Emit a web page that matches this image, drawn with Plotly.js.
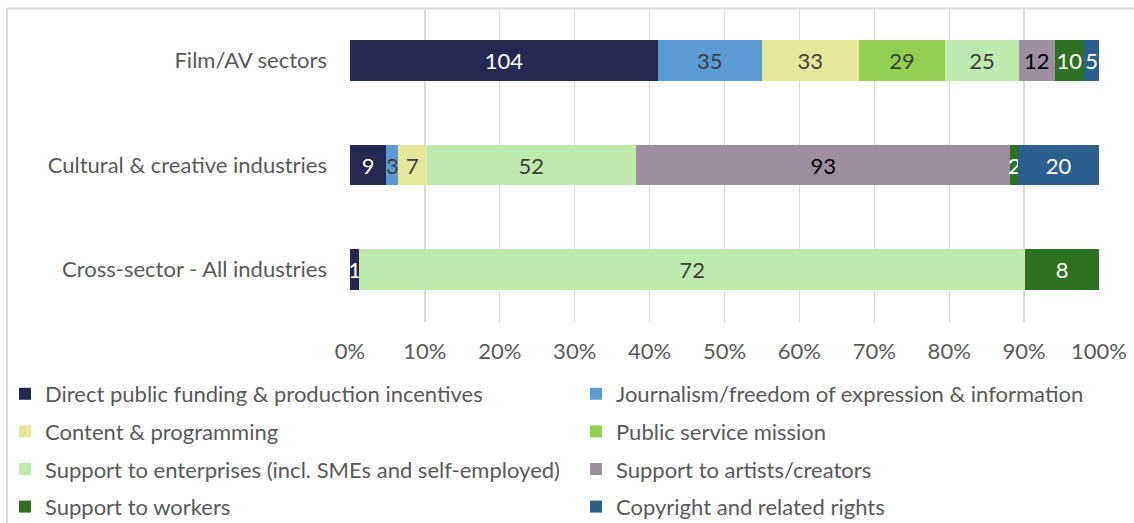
<!DOCTYPE html>
<html><head><meta charset="utf-8">
<script src="https://cdn.plot.ly/plotly-3.0.1.min.js"></script>
<style>html,body{margin:0;padding:0;background:#fff}#chart{width:1134px;height:523px}</style>
</head><body><div id="chart"></div>
<script>
const categories = ["Film/AV sectors", "Cultural & creative industries", "Cross-sector - All industries"];
const seriesNames = [
  "Direct public funding & production incentives",
  "Journalism/freedom of expression & information",
  "Content & programming",
  "Public service mission",
  "Support to enterprises (incl. SMEs and self-employed)",
  "Support to artists/creators",
  "Support to workers",
  "Copyright and related rights"
];
const directFunding   = [104, 9, 1];
const journalism      = [35, 3, 0];
const content         = [33, 7, 0];
const publicService   = [29, 0, 0];
const enterprises     = [25, 52, 72];
const artists         = [12, 93, 0];
const workers         = [10, 2, 8];
const copyright       = [5, 20, 0];
const seriesValues = [directFunding, journalism, content, publicService, enterprises, artists, workers, copyright];
const colors = ["#252850", "#5b9bd5", "#e6e79b", "#92d050", "#bfeaae", "#9e8fa0", "#2d7220", "#2a5f8e"];
const labelColors = ["#ffffff", "#404040", "#404040", "#404040", "#404040", "#000000", "#ffffff", "#ffffff"];

const FONT = "Lato, 'Open Sans', sans-serif";
const FS = 22;
const traces = seriesValues.map((vals, i) => ({
  type: "bar",
  orientation: "h",
  name: seriesNames[i],
  y: categories,
  x: vals,
  text: vals.map(v => v > 0 ? String(v) : ""),
  texttemplate: "%{text}",
  textposition: "inside",
  insidetextanchor: "middle",
  textangle: 0,
  constraintext: "none",
  cliponaxis: false,
  insidetextfont: {family: FONT, size: FS, color: labelColors[i]},
  marker: {color: colors[i], line: {width: 0}},
  hoverinfo: "name+x",
  legend: i % 2 === 0 ? "legend" : "legend2",
  legendgroup: "g" + i
}));

const legendCommon = {
  xref: "container", yref: "container",
  xanchor: "left", yanchor: "top",
  orientation: "v", tracegroupgap: 6, itemclick: false,
  font: {family: FONT, size: FS, color: "#595959"},
  bgcolor: "rgba(0,0,0,0)"
};

const layout = {
  width: 1134, height: 523,
  margin: {l: 350, r: 35, t: 7.5, b: 200.5, autoexpand: false},
  paper_bgcolor: "#ffffff", plot_bgcolor: "#ffffff",
  barmode: "stack", barnorm: "percent",
  bargap: 0.61,
  font: {family: FONT, size: FS, color: "#595959"},
  xaxis: {
    range: [0, 100], dtick: 10, ticksuffix: "%",
    showgrid: true, gridcolor: "#d9d9d9", gridwidth: 1.3,
    zeroline: false, showline: false, ticks: "",
    ticklabelstandoff: 14, automargin: false,
    tickfont: {family: FONT, size: FS, color: "#595959"},
    fixedrange: true
  },
  yaxis: {
    autorange: "reversed", showgrid: false, zeroline: false, ticks: "",
    ticklabelstandoff: 22, automargin: false,
    tickfont: {family: FONT, size: FS, color: "#595959"},
    fixedrange: true
  },
  showlegend: true,
  legend: Object.assign({}, legendCommon, {x: 5 / 1134, y: 1 - 373 / 523}),
  legend2: Object.assign({}, legendCommon, {x: 576 / 1134, y: 1 - 373 / 523}),
  shapes: [
    {
      type: "line", xref: "paper", yref: "paper",
      x0: -0.458, x1: -0.458, y0: -1, y1: 0.9984,
      line: {color: "#d9d9d9", width: 2}
    },
    {
      type: "line", xref: "paper", yref: "paper",
      x0: -0.458, x1: 1.1, y0: 0.9984, y1: 0.9984,
      line: {color: "#d9d9d9", width: 2}
    }
  ]
};
Plotly.newPlot("chart", traces, layout, {displayModeBar: false, staticPlot: true});
</script></body></html>
